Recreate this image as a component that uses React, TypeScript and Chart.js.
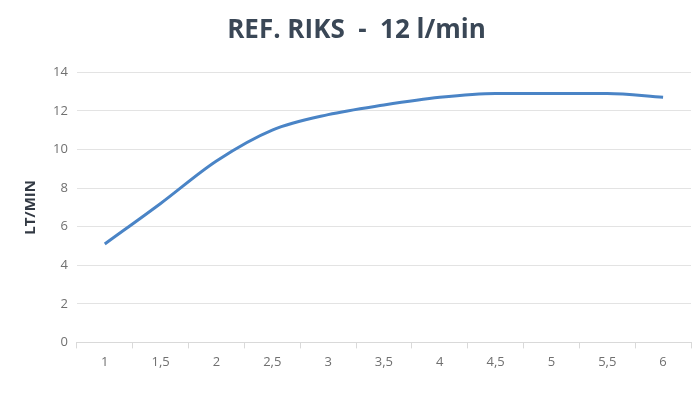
import React, { useEffect, useRef } from "react";
import { Chart, registerables } from "chart.js";
Chart.register(...registerables);

const categories = ["1", "1,5", "2", "2,5", "3", "3,5", "4", "4,5", "5", "5,5", "6"];
const flowValues = [5.1, 7.2, 9.4, 11.0, 11.8, 12.3, 12.7, 12.9, 12.9, 12.9, 12.7];
const titleText = "REF. RIKS  -  12 l/min";
const yAxisTitle = "LT/MIN";

export default function App() {
  const ref = useRef<HTMLCanvasElement | null>(null);
  useEffect(() => {
    if (!ref.current) return;
    const chart = new Chart(ref.current, {
      type: "line",
      data: {
        labels: categories,
        datasets: [
          {
            data: flowValues,
            borderColor: "#4a84c6",
            borderWidth: 3,
            pointRadius: 0,
            tension: 0.3,
            cubicInterpolationMode: "monotone",
            fill: false,
          },
        ],
      },
      options: {
        animation: false,
        responsive: false,
        maintainAspectRatio: false,
        layout: { padding: { left: 22, right: 9, top: 15, bottom: 18 } },
        plugins: {
          legend: { display: false },
          tooltip: { enabled: false },
          title: {
            display: true,
            text: titleText,
            color: "#3a4756",
            font: { family: "Open Sans", size: 26, weight: "bold" },
            padding: { top: 0, bottom: 26 },
          },
        },
        scales: {
          x: {
            offset: true,
            grid: {
              offset: true,
              drawOnChartArea: false,
              drawTicks: true,
              tickLength: 6,
              color: "#d9d9d9",
            },
            border: { color: "#d9d9d9" },
            ticks: {
              color: "#707070",
              font: { family: "Open Sans", size: 13 },
              padding: 6,
              maxRotation: 0,
              autoSkip: false,
            },
          },
          y: {
            min: 0,
            max: 14,
            ticks: {
              stepSize: 2,
              color: "#707070",
              font: { family: "Open Sans", size: 13 },
              padding: 9,
            },
            grid: { color: "#e3e3e3", drawTicks: false },
            border: { display: false },
            title: {
              display: true,
              text: yAxisTitle,
              color: "#333a44",
              font: { family: "Open Sans", size: 15, weight: "bold" },
              padding: { top: 0, bottom: 4 },
            },
          },
        },
      },
    });
    return () => chart.destroy();
  }, []);
  return (
    <div style={{ position: "absolute", left: 0, top: 0, width: 700, height: 394, background: "#fff" }}>
      <canvas ref={ref} width={700} height={394} />
    </div>
  );
}
